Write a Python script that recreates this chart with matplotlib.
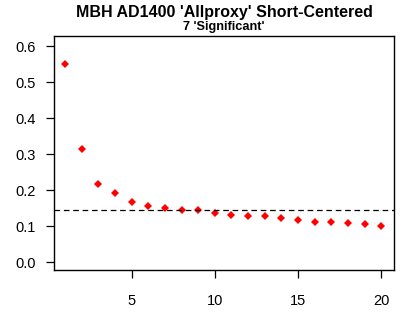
import matplotlib.pyplot as plt

plt.rcParams['font.family'] = ['Liberation Sans', 'DejaVu Sans']

# eigenvalue fractions
pc = list(range(1, 21))
eig = [0.551, 0.316, 0.217, 0.192, 0.167, 0.157, 0.152, 0.145, 0.145, 0.138,
       0.131, 0.129, 0.129, 0.123, 0.118, 0.112, 0.112, 0.110, 0.107, 0.101]
cutoff = 0.147

xticks = [5, 10, 15, 20]
yticks = [0.0, 0.1, 0.2, 0.3, 0.4, 0.5, 0.6]

fig = plt.figure(figsize=(4.11, 3.23), dpi=100)
ax = fig.add_axes([0.1321, 0.1641, 0.8258, 0.7245])

ax.plot(pc, eig, 'D', color='red', markersize=4.5, markeredgewidth=0)
ax.axhline(cutoff, color='black', linestyle=(0, (4.5, 3)), linewidth=0.9)

ax.set_xlim(0.36, 20.74)
ax.set_ylim(-0.021, 0.629)
ax.set_xticks(xticks)
ax.set_yticks(yticks)
ax.set_yticklabels(['%.1f' % v for v in yticks])
ax.tick_params(axis='both', labelsize=10.5, length=6, width=0.9, direction='out')
ax.tick_params(axis='y', pad=7)
ax.tick_params(axis='x', pad=11)
for s in ax.spines.values():
    s.set_linewidth(1.0)

fig.text(0.545, 0.962, "MBH AD1400 'Allproxy' Short-Centered",
         ha='center', va='center', fontsize=11.5, fontweight='bold')
fig.text(0.545, 0.915, "7 'Significant'",
         ha='center', va='center', fontsize=9.2, fontweight='bold')

fig.savefig('out.png', dpi=100)
